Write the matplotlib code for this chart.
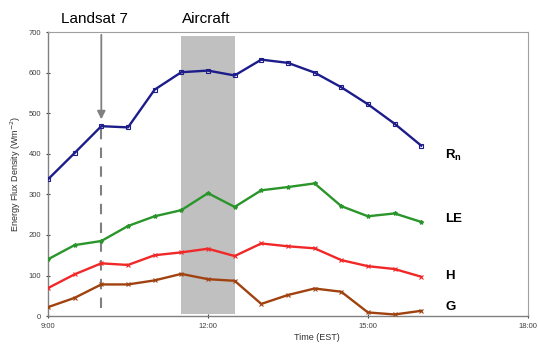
import matplotlib.pyplot as plt

# time of day in hours (9:00 .. 16:00, every 30 min)
hours = [9.0, 9.5, 10.0, 10.5, 11.0, 11.5, 12.0, 12.5, 13.0, 13.5, 14.0, 14.5, 15.0, 15.5, 16.0]

rn = [337, 402, 468, 465, 558, 601, 605, 593, 632, 624, 600, 564, 522, 474, 420]
le = [140, 175, 185, 222, 246, 261, 303, 269, 310, 318, 327, 271, 246, 253, 232]
h = [69, 103, 130, 126, 150, 157, 166, 148, 179, 172, 167, 138, 123, 116, 97]
g = [22, 45, 78, 78, 88, 104, 91, 87, 30, 52, 68, 60, 9, 4, 13]

xticks = [9, 12, 15, 18]
xtick_labels = ["9:00", "12:00", "15:00", "18:00"]
yticks = [0, 100, 200, 300, 400, 500, 600, 700]

landsat_time = 10.0
aircraft_start, aircraft_end = 11.5, 12.5

plt.rcParams['font.family'] = ['Liberation Sans', 'DejaVu Sans']

fig = plt.figure(figsize=(5.38, 3.52), dpi=100)
ax = fig.add_axes([0.0892, 0.102, 0.892, 0.807])

# aircraft overpass window
ax.fill_between([aircraft_start, aircraft_end], 5, 690, color='#c0c0c0', lw=0, zorder=1)

# Landsat overpass: arrow + dashed line
ax.annotate("", xy=(landsat_time, 478), xytext=(landsat_time, 700),
            arrowprops=dict(arrowstyle='-|>', color='#808080', lw=1.3, mutation_scale=12),
            annotation_clip=False, zorder=2)
ax.plot([landsat_time, landsat_time], [20, 462], color='#808080', lw=1.5,
        linestyle=(0, (5, 4)), zorder=2)

ax.plot(hours, rn, color='#1c1c8a', lw=1.7, marker='s', ms=2.5, mfc='none', mew=0.8, zorder=3)
ax.plot(hours, le, color='#2a952a', lw=1.7, marker='*', ms=3, zorder=3)
ax.plot(hours, h, color='#f02828', lw=1.7, marker='x', ms=2.5, mew=0.8, zorder=3)
ax.plot(hours, g, color='#a0420f', lw=1.7, marker='x', ms=2.5, mew=0.8, zorder=3)

ax.text(16.45, 397, "R$_\\mathregular{n}$", fontsize=9.5, fontweight='bold', va='center')
ax.text(16.45, 240, "LE", fontsize=9.5, fontweight='bold', va='center')
ax.text(16.45, 98, "H", fontsize=9.5, fontweight='bold', va='center')
ax.text(16.45, 22, "G", fontsize=9.5, fontweight='bold', va='center')

ax.text(9.88, 714, "Landsat 7", fontsize=11, ha='center', va='bottom')
ax.text(11.97, 714, "Aircraft", fontsize=11, ha='center', va='bottom')

ax.set_xlim(9, 18)
ax.set_ylim(0, 700)
ax.set_xticks(xticks)
ax.set_xticklabels(xtick_labels)
ax.set_yticks(yticks)
ax.tick_params(labelsize=5.5, colors='#404040', length=3, width=0.8, direction='inout')
ax.set_xlabel("Time (EST)", fontsize=6.5, color='#303030', labelpad=2)
ax.xaxis.set_label_coords(0.56, -0.06)
ax.set_ylabel("Energy Flux Density (Wm$^{-2}$)", fontsize=6.5, color='#303030', labelpad=4)

for side in ['left', 'bottom']:
    ax.spines[side].set_color('#808080')
    ax.spines[side].set_linewidth(1.0)
for side in ['top', 'right']:
    ax.spines[side].set_color('#a0a0a0')
    ax.spines[side].set_linewidth(0.8)

fig.savefig("out.png", dpi=100)
